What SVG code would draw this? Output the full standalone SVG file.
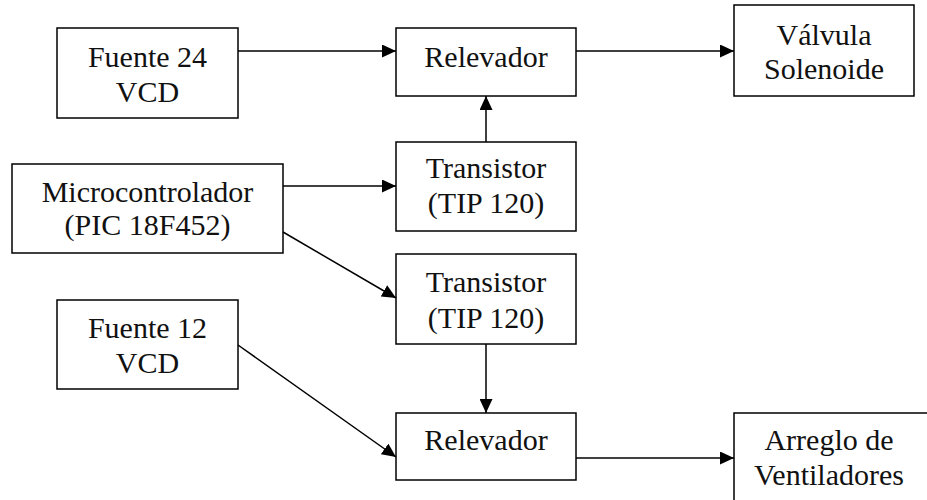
<svg xmlns="http://www.w3.org/2000/svg" width="927" height="500" viewBox="0 0 927 500">
<style>
rect{fill:#fff;stroke:#000;stroke-width:1.5}
text{font-size:30px;fill:#111;text-anchor:middle}
.c line{stroke:#000;stroke-width:1.5}
</style>
<defs>
<marker id="a" viewBox="0 0 14 13" refX="14" refY="6.5" markerWidth="14" markerHeight="13" markerUnits="userSpaceOnUse" orient="auto">
<path d="M0,0L14,6.5L0,13Z" fill="#000"/>
</marker>
</defs>
<rect x="0" y="0" width="927" height="500" style="stroke:none"/>
<g font-family="'Liberation Serif', 'Times New Roman', Times, serif">
<g id="fuente24"><rect x="57" y="28" width="181" height="90"/><text x="147.5" y="67">Fuente 24</text><text x="147.5" y="102">VCD</text></g>
<g id="relevador1"><rect x="396" y="28" width="180" height="68"/><text x="486" y="67">Relevador</text></g>
<g id="valvula"><rect x="734" y="5" width="180" height="91"/><text x="824" y="45">Válvula</text><text x="824" y="79">Solenoide</text></g>
<g id="micro"><rect x="12" y="164" width="271" height="89"/><text x="147.5" y="202">Microcontrolador</text><text x="147.5" y="235">(PIC 18F452)</text></g>
<g id="transistor1"><rect x="396" y="142" width="180" height="89"/><text x="486" y="178">Transistor</text><text x="486" y="213">(TIP 120)</text></g>
<g id="transistor2"><rect x="396" y="254" width="180" height="90"/><text x="486" y="292">Transistor</text><text x="486" y="328">(TIP 120)</text></g>
<g id="fuente12"><rect x="57" y="300" width="181" height="89"/><text x="147.5" y="338">Fuente 12</text><text x="147.5" y="373">VCD</text></g>
<g id="relevador2"><rect x="396" y="413" width="180" height="67"/><text x="486" y="450">Relevador</text></g>
<g id="arreglo"><rect x="734" y="413" width="194" height="100"/><text x="829" y="450">Arreglo de</text><text x="829" y="485">Ventiladores</text></g>
</g>
<g class="c" id="connectors">
<line x1="238" y1="51" x2="396" y2="51" marker-end="url(#a)"/>
<line x1="576" y1="51" x2="734" y2="51" marker-end="url(#a)"/>
<line x1="486" y1="142" x2="486" y2="96" marker-end="url(#a)"/>
<line x1="283" y1="186" x2="396" y2="186" marker-end="url(#a)"/>
<line x1="283" y1="232" x2="396" y2="298" marker-end="url(#a)"/>
<line x1="486" y1="344" x2="486" y2="413" marker-end="url(#a)"/>
<line x1="238" y1="345" x2="396" y2="457" marker-end="url(#a)"/>
<line x1="576" y1="458" x2="734" y2="458" marker-end="url(#a)"/>
</g>
</svg>
